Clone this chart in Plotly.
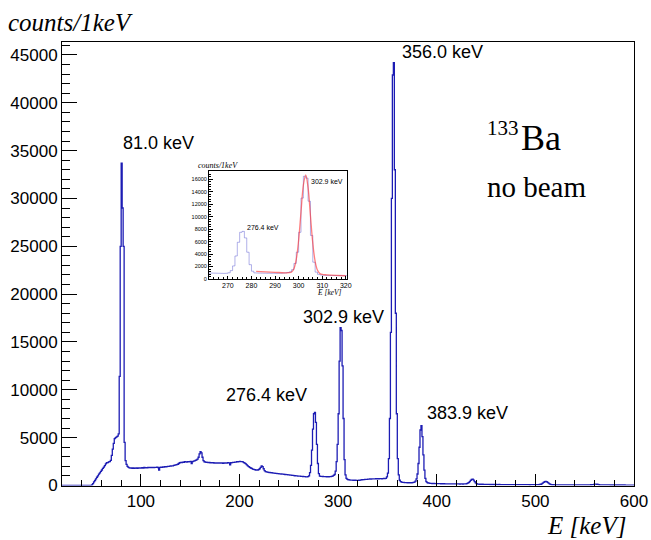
import plotly.graph_objects as go

# ---------------- data ----------------
energy_min = 20      # keV, low edge of first bin
bin_width = 1        # keV per bin

counts_020_099 = [
    0, 0, 0, 0, 0, 0, 0, 0, 0, 0,
    0, 0, 0, 0, 0, 0, 0, 0, 0, 0,
    0, 0, 0, 0, 0, 0, 0, 0, 0, 0,
    60, 200, 380, 520, 700, 860, 1000, 1180, 1320, 1480,
    1620, 1780, 1930, 2080, 2250, 2380, 2400, 2460, 2500, 2620,
    3150, 3800, 4400, 4900, 5000, 5080, 5150, 5400, 11400, 25000,
    33700, 29000, 25000, 4500, 2600, 2200, 2000, 1900, 1850, 1830,
    1840, 1800, 1830, 1790, 1820, 1850, 1800, 1830, 1810, 1840,
]
counts_100_199 = [
    1820, 1860, 1830, 1880, 1850, 1870, 1840, 1880, 1860, 1890,
    1870, 1900, 1880, 1860, 1900, 1890, 1910, 1880, 1600, 1900,
    1920, 1900, 1950, 1930, 1960, 1940, 1980, 2000, 1990, 2020,
    2040, 2060, 2050, 2100, 2120, 2150, 2180, 2220, 2300, 2380,
    2420, 2400, 2450, 2430, 2480, 2460, 2440, 2500, 2470, 2490,
    2520, 2300, 2500, 2550, 2580, 2620, 2680, 2750, 2950, 3300,
    3550, 3400, 2950, 2600, 2480, 2450, 2430, 2420, 2400, 2410,
    2380, 2400, 2360, 2390, 2350, 2370, 2330, 2360, 2340, 2370,
    2350, 2330, 2360, 2320, 2350, 2340, 2370, 2350, 2380, 2360,
    2150, 2380, 2400, 2420, 2410, 2450, 2440, 2480, 2470, 2500,
]
counts_200_299 = [
    2520, 2500, 2490, 2460, 2400, 2330, 2250, 2150, 2060, 1980,
    1900, 1830, 1780, 1720, 1680, 1650, 1620, 1600, 1620, 1650,
    1750, 1900, 2050, 1980, 1750, 1550, 1450, 1420, 1400, 1380,
    1360, 1350, 1330, 1320, 1300, 1290, 1270, 1260, 1250, 1240,
    1220, 1210, 1200, 1190, 1180, 1170, 1150, 1140, 1130, 1110,
    1100, 1090, 1080, 1060, 1050, 1040, 1020, 1010, 1000, 990,
    980, 970, 960, 950, 940, 930, 920, 910, 900, 920,
    1000, 1350, 2100, 3700, 5900, 7500, 7650, 6600, 4300, 2300,
    1250, 980, 960, 950, 940, 930, 920, 930, 910, 920,
    900, 920, 930, 950, 980, 1050, 1150, 1500, 2500, 4300,
]
counts_300_399 = [
    7500, 13000, 16500, 16200, 12500, 7000, 2700, 1100, 750, 650,
    600, 580, 570, 560, 560, 550, 540, 550, 540, 530,
    540, 550, 560, 580, 600, 610, 620, 630, 640, 650,
    660, 670, 680, 680, 690, 700, 690, 700, 710, 700,
    710, 700, 720, 710, 700, 720, 730, 720, 750, 900,
    1300, 2800, 7000, 16000, 30000, 42900, 44200, 33000, 18000, 7500,
    2800, 1100, 550, 400, 350, 330, 320, 310, 300, 300,
    290, 300, 290, 280, 290, 300, 320, 350, 450, 700,
    1200, 2300, 4000, 5800, 6250, 5100, 3200, 1600, 750, 400,
    300, 260, 240, 230, 220, 210, 220, 210, 200, 200,
]
counts_400_499 = [
    200, 190, 190, 200, 180, 190, 180, 190, 180, 170,
    180, 170, 170, 180, 170, 160, 170, 160, 170, 160,
    160, 170, 160, 150, 160, 160, 150, 160, 170, 180,
    200, 240, 300, 400, 530, 640, 660, 560, 400, 270,
    190, 150, 140, 130, 130, 120, 130, 120, 120, 120,
    115, 110, 120, 110, 105, 110, 100, 110, 105, 100,
    105, 100, 95, 105, 100, 95, 100, 95, 100, 95,
    95, 100, 90, 95, 100, 90, 95, 90, 95, 90,
    90, 95, 90, 85, 90, 95, 90, 85, 90, 85,
    90, 85, 90, 85, 80, 90, 85, 90, 85, 90,
]
counts_500_599 = [
    90, 90, 95, 100, 110, 130, 170, 240, 320, 390,
    420, 400, 330, 240, 160, 110, 90, 80, 80, 75,
    75, 70, 75, 70, 72, 70, 68, 70, 66, 68,
    66, 68, 65, 66, 64, 66, 64, 62, 64, 62,
    62, 64, 60, 62, 60, 62, 60, 58, 60, 62,
    60, 62, 60, 64, 66, 70, 76, 85, 100, 120,
    135, 140, 130, 110, 90, 75, 66, 62, 60, 58,
    58, 56, 58, 56, 55, 56, 54, 55, 54, 53,
    54, 52, 53, 52, 50, 52, 50, 51, 50, 49,
    50, 48, 49, 48, 47, 48, 46, 47, 46, 45,
]

# fitted curve of the 302.9 keV peak (inset)
fit_energy = [282, 286, 290, 294, 296, 297, 298, 299, 300, 301, 302, 303,
              304, 305, 306, 307, 308, 309, 310, 312, 316, 320]
fit_counts = [1220, 1150, 1080, 1000, 1010, 1130, 1660, 3160, 6250, 10770, 15060, 16740,
              14680, 10200, 5760, 2820, 1400, 900, 730, 670, 590, 520]

peak_labels = ["81.0 keV", "276.4 keV", "302.9 keV", "356.0 keV", "383.9 keV"]
peak_label_x = [80.3, 184.6, 262.3, 362.6, 387.7]
peak_label_y = [35800, 9460, 17600, 45300, 7580]

inset_labels = ["276.4 keV", "302.9 keV"]
inset_label_x = [277.4, 304.3]
inset_label_y = [8260, 15600]

# ---------------- build ----------------
counts = (counts_020_099 + counts_100_199 + counts_200_299 +
          counts_300_399 + counts_400_499 + counts_500_599)
edges = [energy_min + i * bin_width for i in range(len(counts) + 1)]
step_y = counts + [counts[-1]]

W, H = 651, 540
def px(x):
    return x / W
def py(y):
    return 1 - y / H

fig = go.Figure()
fig.add_trace(go.Scatter(x=edges, y=step_y, mode="lines", line_shape="hv",
                         line=dict(color="rgb(28,28,180)", width=1.3),
                         xaxis="x", yaxis="y", showlegend=False))
fig.add_trace(go.Scatter(x=edges, y=step_y, mode="lines", line_shape="hv",
                         line=dict(color="rgba(60,60,200,0.4)", width=1),
                         xaxis="x2", yaxis="y2", showlegend=False))
fig.add_trace(go.Scatter(x=fit_energy, y=fit_counts, mode="lines", line_shape="spline",
                         line=dict(color="rgba(255,40,40,0.6)", width=1.3),
                         xaxis="x2", yaxis="y2", showlegend=False))

sans = "Liberation Sans, Arial, sans-serif"
serif = "Liberation Serif, Times New Roman, serif"

axis_common = dict(showgrid=False, zeroline=False, showline=True, mirror=True,
                   linecolor="black", linewidth=1, ticks="inside", tickcolor="black",
                   tickwidth=1, automargin=False, tickformat="d")

fig.update_layout(
    width=W, height=H, margin=dict(l=0, r=0, t=0, b=0, pad=0),
    paper_bgcolor="white", plot_bgcolor="white",
    xaxis=dict(domain=[px(62), px(634)], range=[20, 600], tick0=0, dtick=100, ticklen=12,
               minor=dict(dtick=20, ticklen=6, ticks="inside", tickcolor="black"),
               tickfont=dict(family=sans, size=17, color="black"), anchor="y", **axis_common),
    yaxis=dict(domain=[py(485.5), py(42)], range=[0, 46350], tick0=0, dtick=5000, ticklen=15,
               minor=dict(dtick=1000, ticklen=7.5, ticks="inside", tickcolor="black"),
               tickfont=dict(family=sans, size=17, color="black"), anchor="x", **axis_common),
    xaxis2=dict(domain=[px(209), px(347)], range=[262, 320.5], tick0=0, dtick=10, ticklen=3.5,
                minor=dict(dtick=2, ticklen=1.8, ticks="inside", tickcolor="black"),
                tickfont=dict(family=sans, size=7, color="black"), anchor="y2", **axis_common),
    yaxis2=dict(domain=[py(279), py(171)], range=[0, 17350], tick0=0, dtick=2000, ticklen=4,
                minor=dict(dtick=400, ticklen=2, ticks="inside", tickcolor="black"),
                tickfont=dict(family=sans, size=5.5, color="black"), anchor="x2", **axis_common),
)

ann = []
for t, x, y in zip(peak_labels, peak_label_x, peak_label_y):
    ann.append(dict(text=t, x=x, y=y, xref="x", yref="y", xanchor="left", yanchor="middle",
                    showarrow=False, font=dict(family=sans, size=18, color="black")))
for t, x, y in zip(inset_labels, inset_label_x, inset_label_y):
    ann.append(dict(text=t, x=x, y=y, xref="x2", yref="y2", xanchor="left", yanchor="middle",
                    showarrow=False, font=dict(family=sans, size=7, color="black")))
ann += [
    dict(text="<i>counts/1keV</i>", x=px(6), y=py(22), xref="paper", yref="paper",
         xanchor="left", yanchor="middle", showarrow=False,
         font=dict(family=serif, size=25, color="black")),
    dict(text="<i>E [keV]</i>", x=px(628), y=py(525), xref="paper", yref="paper",
         xanchor="right", yanchor="middle", showarrow=False,
         font=dict(family=serif, size=25, color="black")),
    dict(text="<i>counts/1keV</i>", x=px(196), y=py(165), xref="paper", yref="paper",
         xanchor="left", yanchor="middle", showarrow=False,
         font=dict(family=serif, size=8, color="black")),
    dict(text="<i>E [keV]</i>", x=px(344), y=py(292), xref="paper", yref="paper",
         xanchor="right", yanchor="middle", showarrow=False,
         font=dict(family=serif, size=7.5, color="black")),
    dict(text="133", x=px(485), y=py(128), xref="paper", yref="paper",
         xanchor="left", yanchor="middle", showarrow=False,
         font=dict(family=serif, size=21, color="black")),
    dict(text="Ba", x=px(519), y=py(138), xref="paper", yref="paper",
         xanchor="left", yanchor="middle", showarrow=False,
         font=dict(family=serif, size=36, color="black")),
    dict(text="no beam", x=px(485), y=py(187), xref="paper", yref="paper",
         xanchor="left", yanchor="middle", showarrow=False,
         font=dict(family=serif, size=29, color="black")),
]
fig.update_layout(annotations=ann)

fig.write_html("out.html")
